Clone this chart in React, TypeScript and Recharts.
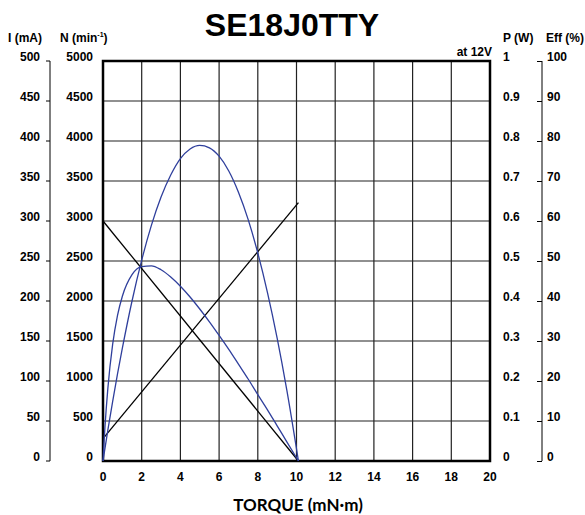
import React from 'react';
import { ComposedChart, Line, XAxis, YAxis, CartesianGrid, ReferenceArea } from 'recharts';

// ---- data ----
const torqueTicks = [0, 2, 4, 6, 8, 10, 12, 14, 16, 18, 20];
const speedTicks = [0, 500, 1000, 1500, 2000, 2500, 3000, 3500, 4000, 4500, 5000];
const currentTicks = [0, 50, 100, 150, 200, 250, 300, 350, 400, 450, 500];
const powerTicks = [0, 0.1, 0.2, 0.3, 0.4, 0.5, 0.6, 0.7, 0.8, 0.9, 1];
const effTicks = [0, 10, 20, 30, 40, 50, 60, 70, 80, 90, 100];

const lineTorque = [0, 10.1];
const speedRpm = [3000, 0];
const currentMa = [28, 323];

const curveTorque = [0, 0.05, 0.1, 0.25, 0.5, 0.75, 1, 1.5, 2, 2.5, 3, 3.5, 4, 4.5, 5, 5.5, 6, 6.5, 7, 7.5, 8, 8.5, 9, 9.5, 10.1];
const powerW = [0, 0.016, 0.031, 0.077, 0.149, 0.218, 0.282, 0.4, 0.502, 0.589, 0.66, 0.715, 0.756, 0.78, 0.789, 0.783, 0.762, 0.725, 0.672, 0.604, 0.52, 0.421, 0.307, 0.177, 0];
const effPct = [0, 4.4, 8.4, 18.1, 29.2, 36.4, 41.2, 46.6, 48.6, 48.8, 47.8, 46.0, 43.7, 41.0, 38.0, 34.8, 31.4, 27.9, 24.2, 20.5, 16.6, 12.8, 8.8, 4.8, 0];

const speedData = lineTorque.map((t, i) => ({ t, v: speedRpm[i] }));
const currentData = lineTorque.map((t, i) => ({ t, v: currentMa[i] }));
const powerData = curveTorque.map((t, i) => ({ t, v: powerW[i] }));
const effData = curveTorque.map((t, i) => ({ t, v: effPct[i] }));

const FONT = '"Liberation Sans", Arial, Helvetica, sans-serif';
const BLUE = '#2f3f9c';

const LeftTick = (props: any) => {
  const { x, y, payload } = props;
  return (
    <text x={x} y={y - 4} textAnchor="end" dominantBaseline="central" fontFamily={FONT} fontWeight="bold" fontSize={12} fill="#000">
      {payload.value}
    </text>
  );
};

const RightTick = (props: any) => {
  const { x, y, payload } = props;
  return (
    <text x={x} y={y - 4} textAnchor="start" dominantBaseline="central" fontFamily={FONT} fontWeight="bold" fontSize={12} fill="#000">
      {payload.value}
    </text>
  );
};

const EffTick = (props: any) => {
  const { x, y, payload } = props;
  return (
    <g>
      <line x1={x - 10} x2={x - 5} y1={y + 0.5} y2={y + 0.5} stroke="#000" strokeWidth={1} />
      <text x={x} y={y - 4} textAnchor="start" dominantBaseline="central" fontFamily={FONT} fontWeight="bold" fontSize={12} fill="#000">
        {payload.value}
      </text>
    </g>
  );
};

const BottomTick = (props: any) => {
  const { x, y, payload } = props;
  return (
    <text x={x} y={y + 16} textAnchor="middle" dominantBaseline="central" fontFamily={FONT} fontWeight="bold" fontSize={12} fill="#000">
      {payload.value}
    </text>
  );
};

export default function App() {
  const hdr = { fontFamily: FONT, fontWeight: 'bold' as const, fontSize: 12, fill: '#000' };
  return (
    <div style={{ position: 'absolute', left: 0, top: 0, width: 585, height: 515, background: '#fff' }}>
      <ComposedChart width={585} height={515} margin={{ top: 61, right: 0, bottom: 24, left: 0 }}>
        <CartesianGrid yAxisId="aN" stroke="#222" strokeWidth={1.2} />
        <XAxis
          dataKey="t"
          type="number"
          domain={[0, 20]}
          ticks={torqueTicks}
          interval={0}
          height={30}
          tickLine={false}
          tickSize={0}
          tickMargin={0}
          axisLine={false}
          tick={<BottomTick />}
        />
        <YAxis yAxisId="aN" orientation="left" type="number" domain={[0, 5000]} ticks={speedTicks} interval={0} width={53} axisLine={false} tickLine={false} tickSize={0} tickMargin={10} tick={<LeftTick />} />
        <YAxis yAxisId="bI" orientation="left" type="number" domain={[0, 500]} ticks={currentTicks} interval={0} width={50} axisLine={{ stroke: '#000', strokeWidth: 1 }} tickLine={{ stroke: '#000', strokeWidth: 1 }} tickSize={4} tickMargin={6} tick={<LeftTick />} />
        <YAxis yAxisId="aP" orientation="right" type="number" domain={[0, 1]} ticks={powerTicks} interval={0} width={52} axisLine={false} tickLine={false} tickSize={0} tickMargin={13} tick={<RightTick />} />
        <YAxis yAxisId="bE" orientation="right" type="number" domain={[0, 100]} ticks={effTicks} interval={0} width={43} axisLine={{ stroke: '#000', strokeWidth: 1 }} tickLine={false} tickSize={0} tickMargin={5} tick={<EffTick />} />
        <ReferenceArea yAxisId="aN" x1={0} x2={20} y1={0} y2={5000} fill="none" stroke="#000" strokeWidth={2.5} />
        <Line yAxisId="aN" data={speedData} dataKey="v" type="linear" stroke="#000" strokeWidth={1.3} dot={false} isAnimationActive={false} />
        <Line yAxisId="bI" data={currentData} dataKey="v" type="linear" stroke="#000" strokeWidth={1.3} dot={false} isAnimationActive={false} />
        <Line yAxisId="aP" data={powerData} dataKey="v" type="monotone" stroke={BLUE} strokeWidth={1.3} dot={false} isAnimationActive={false} />
        <Line yAxisId="bE" data={effData} dataKey="v" type="monotone" stroke={BLUE} strokeWidth={1.3} dot={false} isAnimationActive={false} />
      </ComposedChart>
      <svg width={585} height={515} style={{ position: 'absolute', left: 0, top: 0, pointerEvents: 'none' }}>
        <text x={292} y={36} textAnchor="middle" fontFamily={FONT} fontWeight="bold" fontSize={32} fill="#000">SE18J0TTY</text>
        <text x={8} y={38} dominantBaseline="central" {...hdr}>I (mA)</text>
        <text x={60} y={38} dominantBaseline="central" {...hdr}>
          N (min<tspan fontSize={7} dy={-4}>-1</tspan><tspan dy={4}>)</tspan>
        </text>
        <text x={503} y={38} dominantBaseline="central" {...hdr}>P (W)</text>
        <text x={546} y={38} dominantBaseline="central" {...hdr}>Eff (%)</text>
        <text x={492} y={52} textAnchor="end" dominantBaseline="central" {...hdr}>at 12V</text>
        <text x={298} y={504} textAnchor="middle" dominantBaseline="central" fontFamily='Lato, "Open Sans", sans-serif' fontWeight="bold" fontSize={17} fill="#000">TORQUE (mN·m)</text>
      </svg>
    </div>
  );
}
